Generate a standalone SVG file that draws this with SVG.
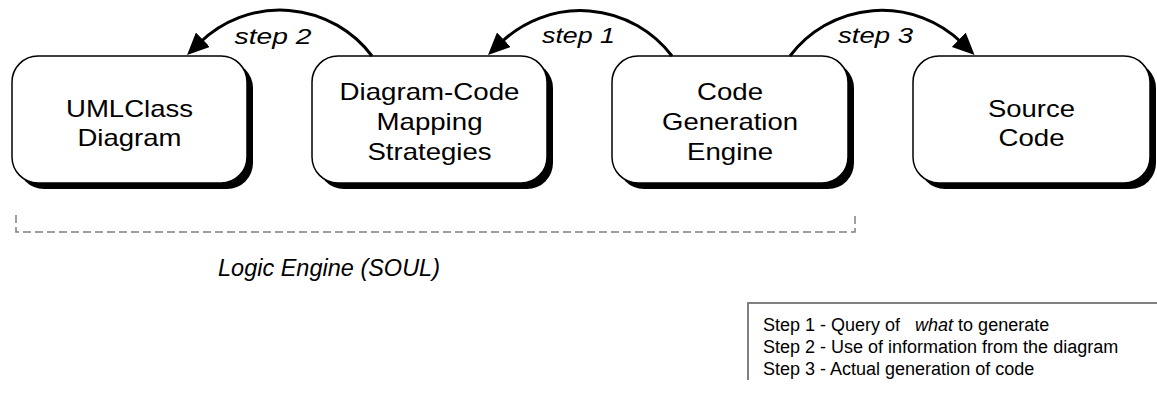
<svg xmlns="http://www.w3.org/2000/svg" width="1157" height="398" viewBox="0 0 1157 398">
  <style>
    .box { fill: #ffffff; stroke: #000000; stroke-width: 1.5; }
    .shadow { fill: #000000; stroke: none; }
    .label { font-family: "Liberation Sans", Arial, sans-serif; font-size: 24px; fill: #000000; text-anchor: middle; }
    .step { font-family: "Liberation Sans", Arial, sans-serif; font-size: 22px; font-style: italic; fill: #000000; text-anchor: middle; }
    .flow { fill: none; stroke: #000000; stroke-width: 3; marker-end: url(#head); }
    .group { fill: none; stroke: #808080; stroke-width: 1.5; stroke-dasharray: 8 4; }
    .caption { font-family: "Liberation Sans", Arial, sans-serif; font-size: 24px; font-style: italic; fill: #000000; text-anchor: middle; }
    .legend { font-family: "Liberation Sans", Arial, sans-serif; font-size: 18px; fill: #000000; white-space: pre; }
    .rule { fill: none; stroke: #808080; stroke-width: 2; }
  </style>
  <defs>
    <marker id="head" markerUnits="userSpaceOnUse" viewBox="0 0 22 20" markerWidth="22" markerHeight="20" refX="4" refY="10" orient="auto">
      <path d="M0,0 L22,10 L0,20 z" fill="#000000"/>
    </marker>
  </defs>

  <!-- nodes: rounded boxes with a drop shadow -->
  <g id="uml-class-diagram">
    <rect class="shadow" x="18" y="62" width="235" height="127" rx="26"/>
    <rect class="box" x="12" y="56" width="235" height="127" rx="26"/>
    <text class="label" x="129.5" y="117" textLength="127" lengthAdjust="spacingAndGlyphs">UMLClass</text>
    <text class="label" x="129.5" y="146" textLength="104" lengthAdjust="spacingAndGlyphs">Diagram</text>
  </g>

  <g id="mapping-strategies">
    <rect class="shadow" x="318" y="62" width="235" height="127" rx="26"/>
    <rect class="box" x="312" y="56" width="235" height="127" rx="26"/>
    <text class="label" x="429.5" y="100" textLength="180" lengthAdjust="spacingAndGlyphs">Diagram-Code</text>
    <text class="label" x="429.5" y="130" textLength="106" lengthAdjust="spacingAndGlyphs">Mapping</text>
    <text class="label" x="429.5" y="160" textLength="124" lengthAdjust="spacingAndGlyphs">Strategies</text>
  </g>

  <g id="code-generation-engine">
    <rect class="shadow" x="618" y="62" width="236" height="127" rx="26"/>
    <rect class="box" x="612" y="56" width="236" height="127" rx="26"/>
    <text class="label" x="730" y="100" textLength="66" lengthAdjust="spacingAndGlyphs">Code</text>
    <text class="label" x="730" y="130" textLength="136" lengthAdjust="spacingAndGlyphs">Generation</text>
    <text class="label" x="730" y="160" textLength="86" lengthAdjust="spacingAndGlyphs">Engine</text>
  </g>

  <g id="source-code">
    <rect class="shadow" x="919" y="62" width="237" height="127" rx="26"/>
    <rect class="box" x="913" y="56" width="237" height="127" rx="26"/>
    <text class="label" x="1031.5" y="117" textLength="87" lengthAdjust="spacingAndGlyphs">Source</text>
    <text class="label" x="1031.5" y="146" textLength="66" lengthAdjust="spacingAndGlyphs">Code</text>
  </g>

  <!-- connectors: curved arrows between the boxes -->
  <g id="connectors">
    <path class="flow" d="M372,56 A115,115 0 0 0 200,42.5"/>
    <path class="flow" d="M672,56 A115,115 0 0 0 501,42.5"/>
    <path class="flow" d="M790,56 A115,115 0 0 1 961.6,42.5"/>
    <text class="step" x="273" y="44" textLength="77" lengthAdjust="spacingAndGlyphs">step 2</text>
    <text class="step" x="578.5" y="43" textLength="73" lengthAdjust="spacingAndGlyphs">step 1</text>
    <text class="step" x="875.5" y="43" textLength="75" lengthAdjust="spacingAndGlyphs">step 3</text>
  </g>

  <!-- bracket grouping the first three boxes -->
  <g id="logic-engine">
    <path class="group" d="M16,215 V232 H855 V215"/>
    <text class="caption" x="329" y="276" textLength="222" lengthAdjust="spacingAndGlyphs">Logic Engine (SOUL)</text>
  </g>

  <!-- legend -->
  <g id="legend">
    <path class="rule" d="M1157,303 H748 V380"/>
    <text class="legend" x="763" y="331">Step 1 - Query of   <tspan font-style="italic">what</tspan> to generate</text>
    <text class="legend" x="763" y="353">Step 2 - Use of information from the diagram</text>
    <text class="legend" x="763" y="375">Step 3 - Actual generation of code</text>
  </g>
</svg>
